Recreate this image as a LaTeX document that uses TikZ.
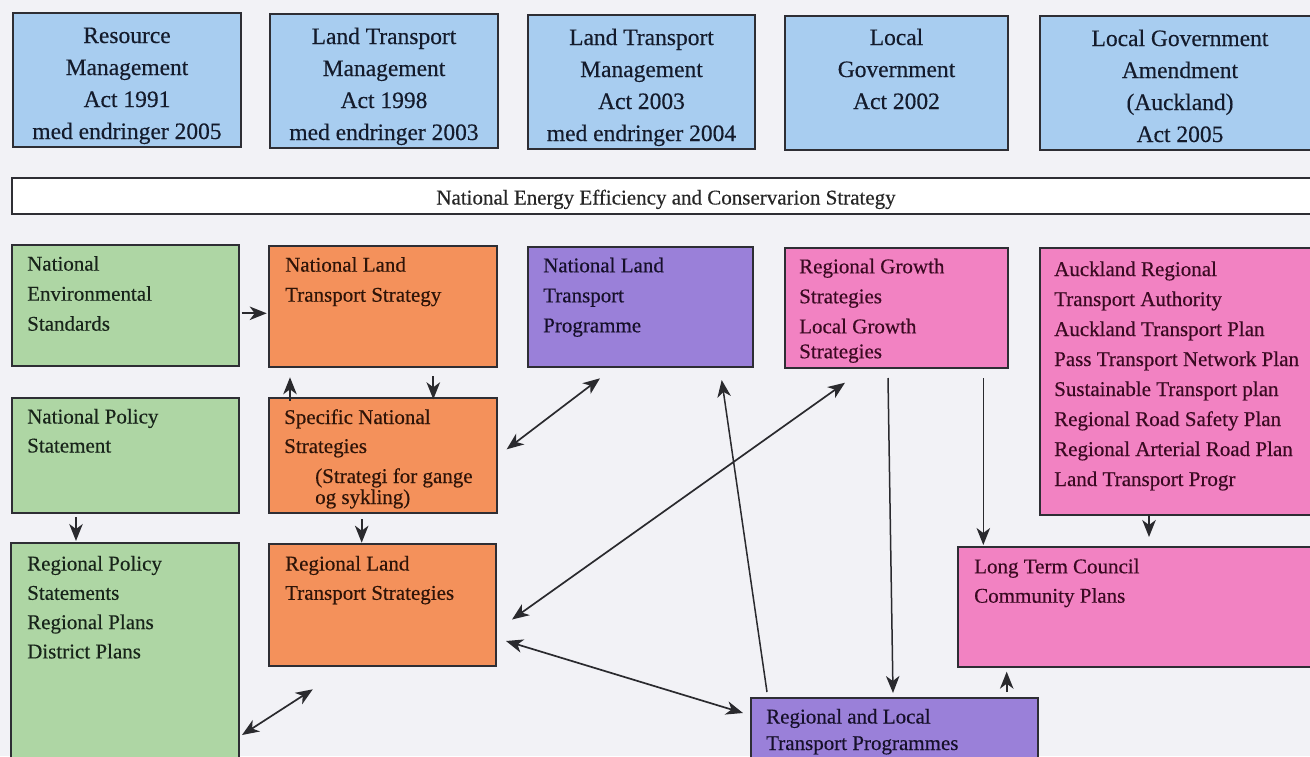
\documentclass[tikz,border=0pt]{standalone}
\usepackage{fontspec}
\setmainfont{Liberation Serif}[FakeBold=0.35]
\usetikzlibrary{arrows.meta}

\definecolor{bg}{HTML}{F2F2F6}
\definecolor{edge}{HTML}{2E2E34}
\definecolor{wire}{HTML}{2A2A2E}
\definecolor{actblue}{HTML}{A8CDF0}
\definecolor{envgreen}{HTML}{AED6A4}
\definecolor{stratorange}{HTML}{F4915B}
\definecolor{progpurple}{HTML}{9A80D9}
\definecolor{planpink}{HTML}{F282C2}
\definecolor{inkblue}{HTML}{141B2C}
\definecolor{inkgreen}{HTML}{18241A}
\definecolor{inkorange}{HTML}{2E1408}
\definecolor{inkpurple}{HTML}{16102A}
\definecolor{inkpink}{HTML}{3A0A22}

% left-aligned block of lines, baseline of the first line is the node base
\newcommand{\blocklines}[1]{\parbox[t]{330pt}{\raggedright #1}}
% centred block of lines for the act boxes
\newcommand{\actlines}[1]{\parbox[t]{226pt}{\centering #1}}

\begin{document}
\begin{tikzpicture}[x=1pt,y=-1pt,
  box/.style={draw=edge, line width=1.5pt, anchor=north west, inner sep=0pt, outer sep=0pt},
  act/.style={box, fill=actblue, minimum height=134pt},
  acttxt/.style={anchor=base, inner sep=0pt, text=inkblue, font=\fontsize{23.5}{32}\selectfont},
  txt/.style={anchor=base west, inner sep=0pt, font=\fontsize{21}{30}\selectfont},
  tip/.tip={Stealth[length=17pt,width=13.5pt,inset=5pt]},
  arr/.style={draw=wire, line width=1.7pt, -tip},
  dbl/.style={draw=wire, line width=1.7pt, tip-tip},
  longarr/.style={draw=wire, line width=1.5pt, -tip}
]
\fill[bg] (0,0) rectangle (1310,756);
\useasboundingbox (0,0) rectangle (1310,756);

% ---- Acts ----
\node[act, minimum width=228pt] (rma) at (13,13) {};
\node[act, minimum width=228pt] (ltma98) at (270,14) {};
\node[act, minimum width=227pt] (ltma03) at (528,15) {};
\node[act, minimum width=223pt] (lga) at (785,16) {};
\node[act, minimum width=280pt] (lgaa) at (1040,16) {};

\node[acttxt] (rma-t) at ([shift={(0,30)}]rma.north) {\actlines{Resource\\Management\\Act 1991\\med endringer 2005}};
\node[acttxt] (ltma98-t) at ([shift={(0,30)}]ltma98.north) {\actlines{Land Transport\\Management\\Act 1998\\med endringer 2003}};
\node[acttxt] (ltma03-t) at ([shift={(0,30)}]ltma03.north) {\actlines{Land Transport\\Management\\Act 2003\\med endringer 2004}};
\node[acttxt] (lga-t) at ([shift={(0,29)}]lga.north) {\actlines{Local\\Government\\Act 2002}};
\node[acttxt] (lgaa-t) at ([shift={(0,30)}]lgaa.north) {\actlines{Local Government\\Amendment\\(Auckland)\\Act 2005}};

% ---- national strategy strip ----
\node[box, fill=white, minimum width=1308pt, minimum height=36pt] (neecs) at (12,178) {};
\node[anchor=base, inner sep=0pt, font=\fontsize{21}{26}\selectfont, text=black!85] (neecs-t)
  at ([shift={(0,26.5)}]neecs.north) {National Energy Efficiency and Conservarion Strategy};

% ---- boxes ----
\node[box, fill=envgreen, minimum width=227pt, minimum height=121pt] (nes) at (12,245) {};
\node[box, fill=stratorange, minimum width=228pt, minimum height=121pt] (nlts) at (269,246) {};
\node[box, fill=progpurple, minimum width=225pt, minimum height=120pt] (nltp) at (528,247) {};
\node[box, fill=planpink, minimum width=223pt, minimum height=120pt] (rgs) at (785,248) {};
\node[box, fill=planpink, minimum width=280pt, minimum height=267pt] (arta) at (1040,248) {};
\node[box, fill=envgreen, minimum width=227pt, minimum height=115pt] (nps) at (12,398) {};
\node[box, fill=stratorange, minimum width=228pt, minimum height=115pt] (sns) at (269,398) {};
\node[box, fill=envgreen, minimum width=228pt, minimum height=230pt] (rps) at (11,543) {};
\node[box, fill=stratorange, minimum width=227pt, minimum height=122pt] (rlts) at (269,544) {};
\node[box, fill=planpink, minimum width=362pt, minimum height=120pt] (ltccp) at (958,547) {};
\node[box, fill=progpurple, minimum width=287pt, minimum height=75pt] (rltp) at (751,698) {};

% ---- box texts ----
\node[txt, text=inkgreen] (nes-t) at ([shift={(15,25.7)}]nes.north west)
  {\blocklines{National\\Environmental\\Standards}};
\node[txt, text=inkorange] (nlts-t) at ([shift={(16,25.7)}]nlts.north west)
  {\blocklines{National Land\\Transport Strategy}};
\node[txt, text=inkpurple] (nltp-t) at ([shift={(15,25.3)}]nltp.north west)
  {\blocklines{National Land\\Transport\\Programme}};
\node[txt, text=inkpink] (rgs-t) at ([shift={(14,25.3)}]rgs.north west)
  {\blocklines{Regional Growth\\Strategies\\Local Growth\\[-5pt]Strategies}};
\node[txt, text=inkpink] (arta-t) at ([shift={(14,28)}]arta.north west)
  {\blocklines{Auckland Regional\\Transport Authority\\Auckland Transport Plan\\Pass Transport Network Plan\\Sustainable Transport plan\\Regional Road Safety Plan\\Regional Arterial Road Plan\\Land Transport Progr}};
\node[txt, text=inkgreen, font=\fontsize{21}{29}\selectfont] (nps-t) at ([shift={(15,25.5)}]nps.north west)
  {\blocklines{National Policy\\Statement}};
\node[txt, text=inkorange] (sns-t) at ([shift={(15,26)}]sns.north west)
  {\blocklines{Specific National\\[-1pt]Strategies\\\hspace*{31pt}(Strategi for gange\\[-9pt]\hspace*{31pt}og sykling)}};
\node[txt, text=inkgreen, font=\fontsize{21}{29.3}\selectfont] (rps-t) at ([shift={(16,27.5)}]rps.north west)
  {\blocklines{Regional Policy\\Statements\\Regional Plans\\District Plans}};
\node[txt, text=inkorange, font=\fontsize{21}{29.3}\selectfont] (rlts-t) at ([shift={(16,26.5)}]rlts.north west)
  {\blocklines{Regional Land\\Transport Strategies}};
\node[txt, text=inkpink, font=\fontsize{21}{29.4}\selectfont] (ltccp-t) at ([shift={(16,26.3)}]ltccp.north west)
  {\blocklines{Long Term Council\\Community Plans}};
\node[txt, text=inkpurple, font=\fontsize{21}{26.5}\selectfont] (rltp-t) at ([shift={(15,25.5)}]rltp.north west)
  {\blocklines{Regional and Local\\Transport Programmes}};

% ---- connectors ----
\draw[arr] ([shift={(2.7,7.8)}]nes.east) -- ([shift={(-2.3,6.8)}]nlts.west);
\draw[arr] ([shift={(21,2.7)}]sns.north west) -- ([shift={(21,10.3)}]nlts.south west);
\draw[arr] ([shift={(164.3,9)}]nlts.south west) -- ([shift={(164.3,1.3)}]sns.north west);
\draw[dbl] ([shift={(72,11.3)}]nltp.south west) -- ([shift={(9.7,-6.2)}]sns.east);
\draw[longarr] ([shift={(16,-6)}]rltp.north west) -- ([shift={(193.7,13)}]nltp.south west);
\draw[dbl] ([shift={(60,14.7)}]rgs.south west) -- ([shift={(16,14.5)}]rlts.east);
\draw[longarr] ([shift={(103,10)}]rgs.south west) -- ([shift={(142,-5)}]rltp.north west);
\draw[longarr] ([shift={(198.3,10)}]rgs.south west) -- ([shift={(25.3,-2)}]ltccp.north west);
\draw[arr] ([shift={(109,-1)}]arta.south west) -- ([shift={(191,-10)}]ltccp.north west);
\draw[arr] ([shift={(48.7,25)}]ltccp.south west) -- ([shift={(48.7,4.7)}]ltccp.south west);
\draw[dbl] ([shift={(10,36)}]rlts.east) -- ([shift={(-8,15)}]rltp.north west);
\draw[dbl] ([shift={(3,192)}]rps.north east) -- ([shift={(43.8,23.3)}]rlts.south west);
\draw[arr] ([shift={(64,4)}]nps.south west) -- ([shift={(65,-2)}]rps.north west);
\draw[arr] ([shift={(92.7,6.3)}]sns.south west) -- ([shift={(92.7,-1.3)}]rlts.north west);
\end{tikzpicture}
\end{document}
